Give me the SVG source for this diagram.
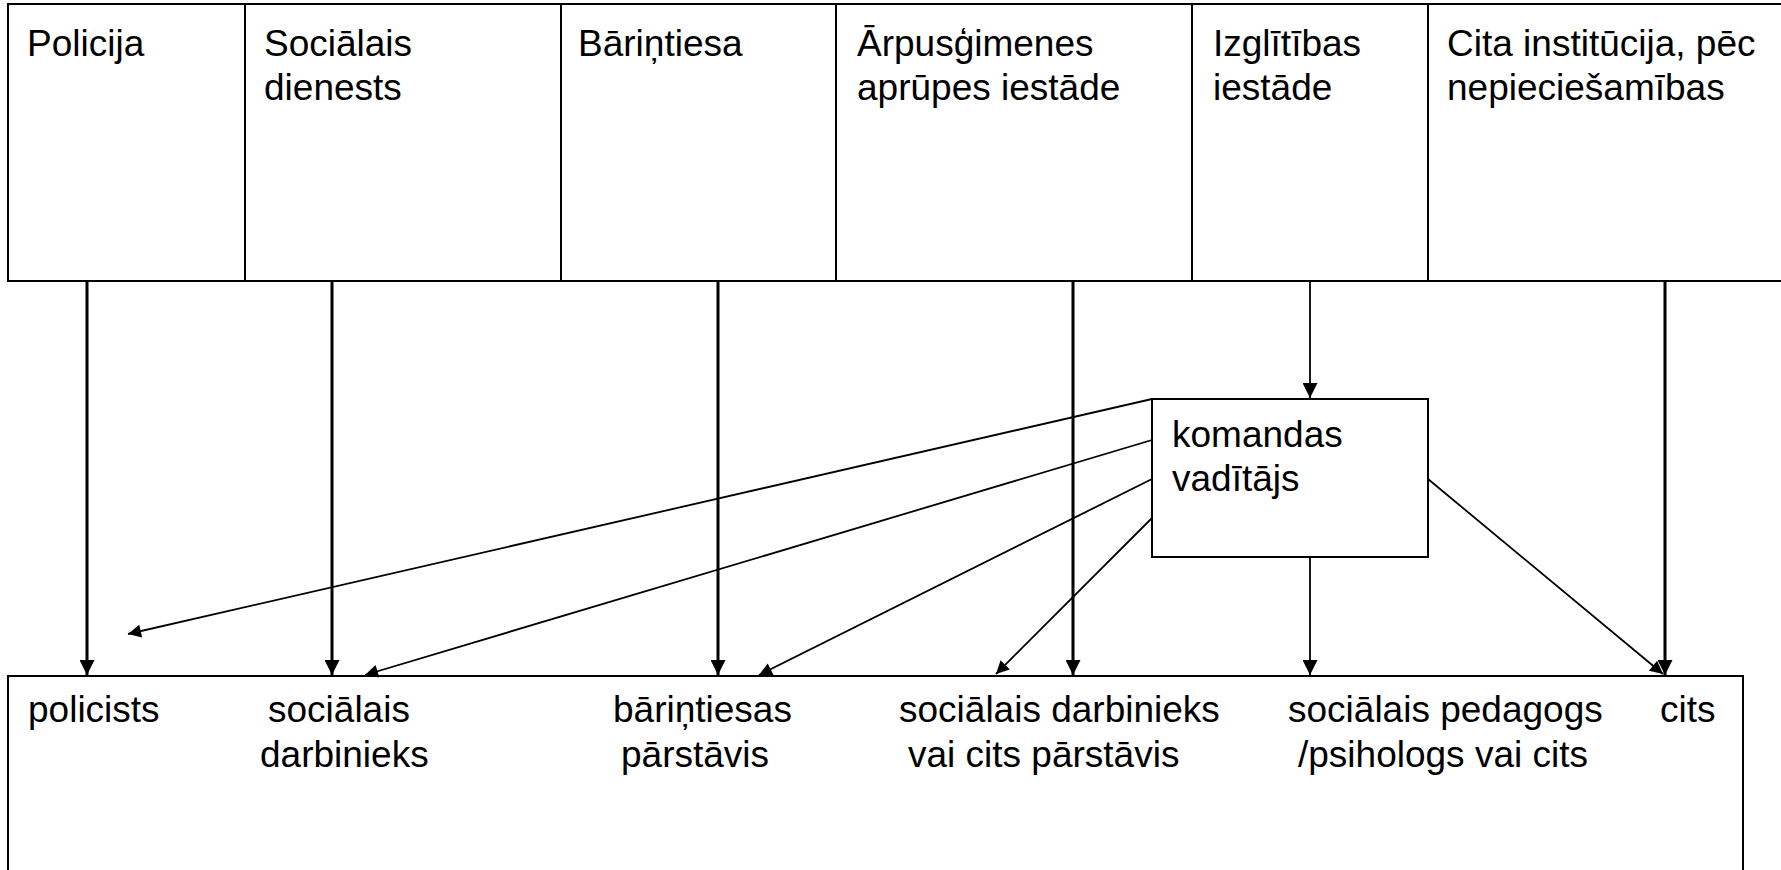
<svg xmlns="http://www.w3.org/2000/svg" width="1781" height="870" viewBox="0 0 1781 870">
<style>
.bx{fill:#fff;stroke:#000;stroke-width:2}
.dv{stroke:#000;stroke-width:2}
.t{font-family:"Liberation Sans",Arial,sans-serif;font-size:37px;fill:#000}
.thick{stroke:#000;stroke-width:3;fill:none}
.thin{stroke:#000;stroke-width:1.8;fill:none}
</style>
<defs>
<marker id="ah" viewBox="0 0 10 10" refX="10" refY="5" markerUnits="userSpaceOnUse" markerWidth="15" markerHeight="15" orient="auto"><path d="M0,0L10,5L0,10z" fill="#000"/></marker>
<marker id="ah2" viewBox="0 0 10 10" refX="10" refY="5" markerUnits="userSpaceOnUse" markerWidth="16" markerHeight="13" orient="auto"><path d="M0,0L10,5L0,10z" fill="#000"/></marker>
</defs>
<rect width="1781" height="870" fill="#fff"/>
<g id="top-row">
<rect class="bx" x="8" y="4" width="1790" height="277"/>
<line class="dv" x1="245" y1="4" x2="245" y2="281"/>
<line class="dv" x1="561" y1="4" x2="561" y2="281"/>
<line class="dv" x1="836" y1="4" x2="836" y2="281"/>
<line class="dv" x1="1192" y1="4" x2="1192" y2="281"/>
<line class="dv" x1="1428" y1="4" x2="1428" y2="281"/>
</g>
<g id="policija"><text class="t" x="27" y="56">Policija</text></g>
<g id="socialais-dienests"><text class="t"><tspan x="264" y="56">Sociālais</tspan><tspan x="264" y="100">dienests</tspan></text></g>
<g id="barintiesa"><text class="t" x="578" y="56">Bāriņtiesa</text></g>
<g id="arpusgimenes"><text class="t"><tspan x="857" y="56">Ārpusģimenes</tspan><tspan x="857" y="100">aprūpes iestāde</tspan></text></g>
<g id="izglitibas"><text class="t"><tspan x="1213" y="56">Izglītības</tspan><tspan x="1213" y="100">iestāde</tspan></text></g>
<g id="cita"><text class="t"><tspan x="1447" y="56">Cita institūcija, pēc</tspan><tspan x="1447" y="100">nepieciešamības</tspan></text></g>
<g id="komandas-vaditajs">
<rect class="bx" x="1152" y="399" width="276" height="158"/>
<text class="t"><tspan x="1172" y="447">komandas</tspan><tspan x="1172" y="491">vadītājs</tspan></text>
</g>
<g id="team">
<rect class="bx" x="8" y="676" width="1735" height="220"/>
<text class="t" x="28" y="722">policists</text>
<text class="t"><tspan x="268" y="722">sociālais</tspan><tspan x="260" y="767">darbinieks</tspan></text>
<text class="t"><tspan x="613" y="722">bāriņtiesas</tspan><tspan x="621" y="767">pārstāvis</tspan></text>
<text class="t"><tspan x="899" y="722">sociālais darbinieks</tspan><tspan x="908" y="767">vai cits pārstāvis</tspan></text>
<text class="t"><tspan x="1288" y="722">sociālais pedagogs</tspan><tspan x="1298" y="767">/psihologs vai cits</tspan></text>
<text class="t" x="1660" y="722">cits</text>
</g>
<g id="connectors">
<line class="thick" x1="87" y1="281" x2="87" y2="675" marker-end="url(#ah)"/>
<line class="thick" x1="332" y1="281" x2="332" y2="675" marker-end="url(#ah)"/>
<line class="thick" x1="718" y1="281" x2="718" y2="675" marker-end="url(#ah)"/>
<line class="thick" x1="1073" y1="281" x2="1073" y2="675" marker-end="url(#ah)"/>
<line class="thick" x1="1665" y1="281" x2="1665" y2="675" marker-end="url(#ah)"/>
<line class="thin" x1="1310" y1="281" x2="1310" y2="398" marker-end="url(#ah)"/>
<line class="thin" x1="1310" y1="557" x2="1310" y2="675" marker-end="url(#ah)"/>
<line class="thin" x1="1152" y1="399" x2="128" y2="634" marker-end="url(#ah2)"/>
<line class="thin" x1="1152" y1="440" x2="365" y2="675" marker-end="url(#ah2)"/>
<line class="thin" x1="1152" y1="479" x2="759" y2="675" marker-end="url(#ah2)"/>
<line class="thin" x1="1152" y1="518" x2="996" y2="674" marker-end="url(#ah2)"/>
<line class="thin" x1="1428" y1="479" x2="1663" y2="674" marker-end="url(#ah2)"/>
</g>
</svg>
